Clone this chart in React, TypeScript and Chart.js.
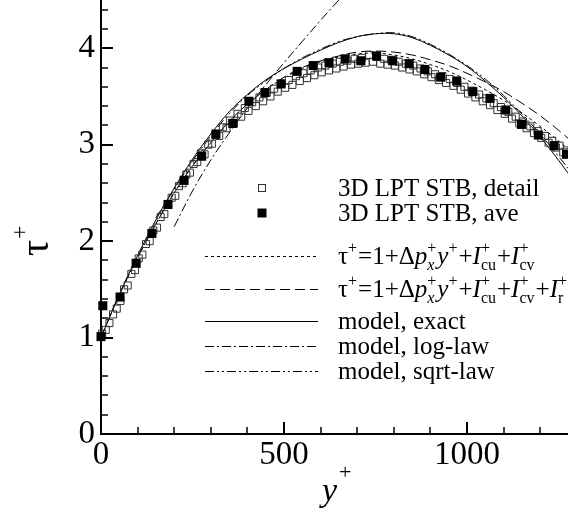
import React, { useEffect, useRef } from "react";
import { Chart, registerables } from "chart.js";

Chart.register(...registerables);

const SERIF = '"Liberation Serif", "Times New Roman", serif';

// Averaged STB samples (filled squares)
const aveYPlus = [0, 5, 52, 96, 139, 183, 227, 275, 314, 360, 404, 448, 492, 536, 580, 623, 667, 710, 753, 797, 842, 885, 928, 972, 1016, 1063, 1106, 1149, 1195, 1238, 1272];
const aveTau = [1.01, 1.33, 1.42, 1.77, 2.08, 2.38, 2.63, 2.88, 3.11, 3.22, 3.45, 3.54, 3.63, 3.76, 3.82, 3.85, 3.89, 3.87, 3.92, 3.87, 3.84, 3.78, 3.70, 3.66, 3.55, 3.48, 3.36, 3.21, 3.10, 2.99, 2.90];

// Detailed STB samples (open squares)
const detailYPlus = [
  3, 13, 23, 33, 43, 53, 63, 73, 83, 93, 103, 113, 123, 133, 143, 153, 163, 173, 183, 193,
  203, 213, 223, 233, 243, 253, 263, 273, 283, 293, 303, 313, 323, 333, 343, 353, 363, 373, 383, 393,
  403, 413, 423, 433, 443, 453, 463, 473, 483, 493, 503, 513, 523, 533, 543, 553, 563, 573, 583, 593,
  603, 613, 623, 633, 643, 653, 663, 673, 683, 693, 703, 713, 723, 733, 743, 753, 763, 773, 783, 793,
  803, 813, 823, 833, 843, 853, 863, 873, 883, 893, 903, 913, 923, 933, 943, 953, 963, 973, 983, 993,
  1003, 1013, 1023, 1033, 1043, 1053, 1063, 1073, 1083, 1093, 1103, 1113, 1123, 1133, 1143, 1153, 1163, 1173, 1183, 1193,
  1203, 1213, 1223, 1233, 1243, 1253, 1263, 1273,
];
const detailTau = [
  1.04, 1.08, 1.15, 1.24, 1.30, 1.38, 1.50, 1.54, 1.66, 1.70, 1.82, 1.86, 1.97, 2.00, 2.11, 2.14, 2.25, 2.28, 2.38, 2.45,
  2.47, 2.57, 2.60, 2.69, 2.71, 2.80, 2.82, 2.91, 2.90, 3.00, 3.01, 3.10, 3.09, 3.18, 3.17, 3.25, 3.22, 3.32, 3.29, 3.38,
  3.35, 3.44, 3.40, 3.49, 3.45, 3.54, 3.50, 3.58, 3.55, 3.63, 3.59, 3.67, 3.62, 3.71, 3.66, 3.74, 3.69, 3.77, 3.72, 3.80,
  3.75, 3.82, 3.77, 3.84, 3.79, 3.86, 3.81, 3.87, 3.83, 3.89, 3.84, 3.90, 3.85, 3.93, 3.86, 3.91, 3.84, 3.89, 3.83, 3.88,
  3.82, 3.86, 3.80, 3.84, 3.78, 3.82, 3.76, 3.79, 3.73, 3.76, 3.70, 3.73, 3.67, 3.71, 3.64, 3.68, 3.61, 3.64, 3.57, 3.60,
  3.53, 3.56, 3.49, 3.52, 3.45, 3.48, 3.41, 3.43, 3.36, 3.39, 3.32, 3.34, 3.27, 3.29, 3.22, 3.24, 3.17, 3.19, 3.12, 3.14,
  3.07, 3.09, 3.02, 3.04, 2.97, 2.99, 2.92, 2.94,
];

// Stress-budget and model profiles
const profileYPlus = [0, 50, 100, 150, 200, 250, 300, 350, 400, 450, 500, 550, 600, 650, 700, 750, 800, 850, 900, 950, 1000, 1050, 1100, 1150, 1200, 1250, 1300];
const budgetTau = [1.0, 1.44, 1.83, 2.18, 2.50, 2.78, 3.02, 3.24, 3.42, 3.57, 3.69, 3.79, 3.86, 3.91, 3.94, 3.95, 3.93, 3.89, 3.83, 3.76, 3.67, 3.57, 3.46, 3.33, 3.19, 3.04, 2.88];
const budgetRTau = [1.0, 1.44, 1.83, 2.18, 2.50, 2.78, 3.02, 3.24, 3.42, 3.57, 3.70, 3.80, 3.87, 3.92, 3.96, 3.97, 3.96, 3.93, 3.88, 3.82, 3.74, 3.65, 3.55, 3.43, 3.30, 3.15, 2.99];
const exactTau = [1.0, 1.45, 1.85, 2.22, 2.55, 2.85, 3.11, 3.34, 3.52, 3.67, 3.79, 3.89, 3.98, 4.06, 4.12, 4.15, 4.15, 4.11, 4.03, 3.93, 3.81, 3.66, 3.49, 3.30, 3.08, 2.84, 2.58];
const logLawYPlus = [200, 250, 300, 350, 400, 450, 500, 550, 600, 650, 700];
const logLawTau = [2.15, 2.52, 2.84, 3.12, 3.38, 3.62, 3.85, 4.07, 4.29, 4.50, 4.70];
const sqrtLawYPlus = [150, 200, 250, 300, 350, 400, 450, 500, 550, 600, 650, 700, 750, 800, 850, 900, 950, 1000, 1050, 1100, 1150, 1200, 1250, 1300];
const sqrtLawTau = [2.24, 2.54, 2.83, 3.09, 3.32, 3.51, 3.66, 3.79, 3.90, 3.99, 4.07, 4.12, 4.15, 4.16, 4.12, 4.04, 3.94, 3.82, 3.68, 3.51, 3.32, 3.11, 2.88, 2.64];

// Axis ticks
const xMajorTicks = [0, 500, 1000];
const yMajorTicks = [0, 1, 2, 3, 4];
const X_MINOR_STEP = 100;
const Y_MINOR_STEP = 0.2;
const X_MAX = 1276;
const Y_MAX = 4.5;

const DASH = {
  budget: [3, 3],
  budgetR: [10, 5],
  exact: [] as number[],
  logLaw: [9, 3, 2, 3],
  sqrtLaw: [9, 3, 2, 3, 2, 3],
};

type Run = { t: string; it?: boolean; sub?: string; sup?: string; subIt?: boolean };

const eqBase: Run[] = [
  { t: "τ", sup: "+" },
  { t: "=1+Δ" },
  { t: "p", it: true, sub: "x", subIt: true, sup: "+" },
  { t: "y", it: true, sup: "+" },
  { t: "+" },
  { t: "I", it: true, sub: "cu", sup: "+" },
  { t: "+" },
  { t: "I", it: true, sub: "cv", sup: "+" },
];
const eqWithR: Run[] = [...eqBase, { t: "+" }, { t: "I", it: true, sub: "r", sup: "+" }];

type LegendItem = { kind: "open" | "filled" | "line"; dash?: number[]; runs: Run[] };
const legendItems: LegendItem[] = [
  { kind: "open", runs: [{ t: "3D LPT STB, detail" }] },
  { kind: "filled", runs: [{ t: "3D LPT STB, ave" }] },
  { kind: "line", dash: DASH.budget, runs: eqBase },
  { kind: "line", dash: DASH.budgetR, runs: eqWithR },
  { kind: "line", dash: DASH.exact, runs: [{ t: "model, exact" }] },
  { kind: "line", dash: DASH.logLaw, runs: [{ t: "model, log-law" }] },
  { kind: "line", dash: DASH.sqrtLaw, runs: [{ t: "model, sqrt-law" }] },
];

const pairs = (xs: number[], ys: number[]) => xs.map((x, i) => ({ x, y: ys[i] }));

function drawRich(ctx: CanvasRenderingContext2D, x: number, y: number, runs: Run[], size: number) {
  const small = Math.round(size * 0.62);
  for (const r of runs) {
    ctx.font = `${r.it ? "italic " : ""}${size}px ${SERIF}`;
    ctx.fillText(r.t, x, y);
    x += ctx.measureText(r.t).width;
    if (r.sub || r.sup) {
      let w = 0;
      if (r.sub) {
        ctx.font = `${r.subIt ? "italic " : ""}${small}px ${SERIF}`;
        ctx.fillText(r.sub, x, y + 6);
        w = Math.max(w, ctx.measureText(r.sub).width);
      }
      if (r.sup) {
        ctx.font = `${small}px ${SERIF}`;
        ctx.fillText(r.sup, x, y - 11);
        w = Math.max(w, ctx.measureText(r.sup).width);
      }
      x += w + 1;
    }
  }
}

const decorations = {
  id: "decorations",
  afterDraw(chart: any) {
    const ctx: CanvasRenderingContext2D = chart.ctx;
    const xs = chart.scales.x;
    const ys = chart.scales.y;
    const area = chart.chartArea;
    ctx.save();
    ctx.strokeStyle = "#000";
    ctx.fillStyle = "#000";

    // inward tick marks
    for (let v = 0; v <= X_MAX + 1e-6; v += X_MINOR_STEP) {
      const px = Math.round(xs.getPixelForValue(v));
      const major = xMajorTicks.includes(v);
      ctx.lineWidth = major ? 2 : 1.5;
      ctx.beginPath();
      ctx.moveTo(px, area.bottom);
      ctx.lineTo(px, area.bottom - (major ? 12 : 7));
      ctx.stroke();
    }
    for (let k = 0; k * Y_MINOR_STEP <= Y_MAX + 1e-6; k++) {
      const v = +(k * Y_MINOR_STEP).toFixed(2);
      const py = Math.round(ys.getPixelForValue(v));
      const major = yMajorTicks.includes(v);
      ctx.lineWidth = major ? 2 : 1.5;
      ctx.beginPath();
      ctx.moveTo(area.left, py);
      ctx.lineTo(area.left + (major ? 12 : 7), py);
      ctx.stroke();
    }

    // axis titles
    ctx.textAlign = "left";
    ctx.textBaseline = "alphabetic";
    ctx.save();
    ctx.translate(48, 256);
    ctx.rotate(-Math.PI / 2);
    ctx.font = `40px ${SERIF}`;
    ctx.fillText("τ", 0, 0);
    const tw = ctx.measureText("τ").width;
    ctx.font = `24px ${SERIF}`;
    ctx.fillText("+", tw + 1, -21);
    ctx.restore();

    ctx.font = `italic 34px ${SERIF}`;
    ctx.fillText("y", 322, 501);
    const yw = ctx.measureText("y").width;
    ctx.font = `22px ${SERIF}`;
    ctx.fillText("+", 322 + yw + 2, 479);

    // legend
    const rows = [188, 213, 256, 289, 321, 346, 371];
    const lineX0 = 205;
    const lineX1 = 318;
    const markX = 262;
    const textX = 338;
    legendItems.forEach((item, i) => {
      const y = rows[i];
      if (item.kind === "line") {
        ctx.lineWidth = 1;
        ctx.setLineDash(item.dash || []);
        ctx.beginPath();
        ctx.moveTo(lineX0, y + 0.5);
        ctx.lineTo(lineX1, y + 0.5);
        ctx.stroke();
        ctx.setLineDash([]);
      } else if (item.kind === "open") {
        ctx.lineWidth = 1;
        ctx.strokeStyle = "#333";
        ctx.strokeRect(markX - 3.5, y - 3.5, 7, 7);
        ctx.strokeStyle = "#000";
      } else {
        ctx.fillRect(markX - 4.5, y - 4.5, 9, 9);
      }
      drawRich(ctx, textX, y + 8, item.runs, 25);
    });

    ctx.restore();
  },
};

export default function App() {
  const ref = useRef<HTMLCanvasElement | null>(null);

  useEffect(() => {
    if (!ref.current) return;
    const lineDs = (label: string, xs: number[], ys: number[], dash: number[]) => ({
      type: "line" as const,
      label,
      data: pairs(xs, ys),
      borderColor: "#000",
      borderWidth: 1,
      borderDash: dash,
      pointRadius: 0,
      tension: 0.35,
      fill: false,
      order: 3,
    });
    const chart = new Chart(ref.current, {
      type: "scatter",
      data: {
        datasets: [
          lineDs("budget", profileYPlus, budgetTau, DASH.budget),
          lineDs("budgetR", profileYPlus, budgetRTau, DASH.budgetR),
          lineDs("exact", profileYPlus, exactTau, DASH.exact),
          lineDs("logLaw", logLawYPlus, logLawTau, DASH.logLaw),
          lineDs("sqrtLaw", sqrtLawYPlus, sqrtLawTau, DASH.sqrtLaw),
          {
            label: "3D LPT STB, detail",
            data: pairs(detailYPlus, detailTau),
            pointStyle: "rect",
            pointRadius: 5,
            backgroundColor: "rgba(0,0,0,0)",
            borderColor: "#333",
            borderWidth: 1,
            clip: false,
            order: 2,
          } as any,
          {
            label: "3D LPT STB, ave",
            data: pairs(aveYPlus, aveTau),
            pointStyle: "rect",
            pointRadius: 6.4,
            backgroundColor: "#000",
            borderColor: "#000",
            borderWidth: 0,
            clip: false,
            order: 1,
          } as any,
        ],
      },
      options: {
        animation: false,
        responsive: false,
        devicePixelRatio: 1,
        layout: { padding: 0, autoPadding: false },
        plugins: { legend: { display: false }, tooltip: { enabled: false } },
        scales: {
          x: {
            type: "linear",
            min: 0,
            max: X_MAX,
            grid: { display: false, drawTicks: false },
            border: { display: true, color: "#000", width: 2 },
            ticks: {
              color: "#000",
              font: { family: SERIF, size: 33 },
              padding: 2,
              maxRotation: 0,
              callback: (v: any) => String(v),
            },
            afterBuildTicks: (s: any) => {
              s.ticks = xMajorTicks.map((v) => ({ value: v }));
            },
            afterFit: (s: any) => {
              s.height = 81;
              s.paddingLeft = 0;
              s.paddingRight = 0;
            },
          },
          y: {
            type: "linear",
            min: 0,
            max: Y_MAX,
            grid: { display: false, drawTicks: false },
            border: { display: true, color: "#000", width: 2 },
            ticks: { color: "#000", font: { family: SERIF, size: 33 }, padding: 6, callback: (v: any) => String(v) },
            afterBuildTicks: (s: any) => {
              s.ticks = yMajorTicks.map((v) => ({ value: v }));
            },
            afterFit: (s: any) => {
              s.width = 101;
              s.paddingTop = 0;
              s.paddingBottom = 0;
            },
          },
        },
      },
      plugins: [decorations],
    });
    return () => chart.destroy();
  }, []);

  return (
    <div style={{ position: "absolute", left: 0, top: 0, width: 568, height: 515, background: "#fff" }}>
      <canvas ref={ref} width={568} height={515} style={{ display: "block" }} />
    </div>
  );
}
